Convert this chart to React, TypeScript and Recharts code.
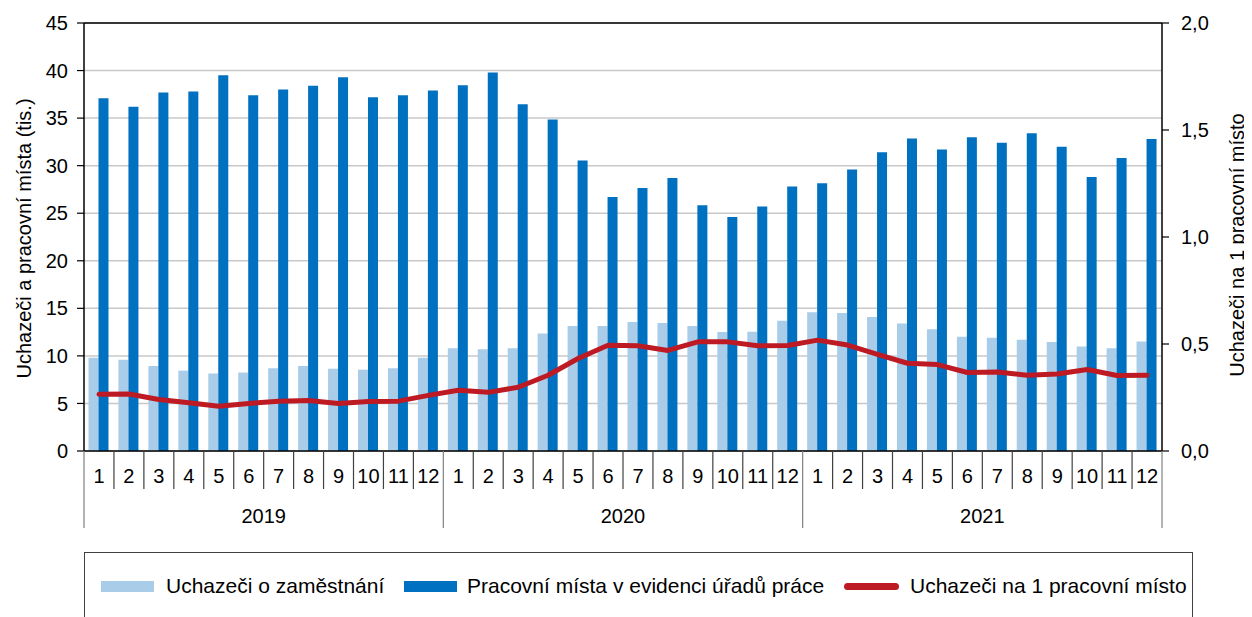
import React from 'react';
import {
  ComposedChart,
  Bar,
  Line,
  XAxis,
  YAxis,
  CartesianGrid,
  ReferenceLine,
  Legend,
} from 'recharts';

const years = ['2019', '2020', '2021'];
const monthLabels = ['1', '2', '3', '4', '5', '6', '7', '8', '9', '10', '11', '12'];

const seekers2019 = [9.8, 9.6, 8.95, 8.45, 8.15, 8.25, 8.7, 8.95, 8.65, 8.55, 8.7, 9.8];
const seekers2020 = [10.8, 10.7, 10.8, 12.35, 13.15, 13.15, 13.55, 13.45, 13.15, 12.5, 12.55, 13.7];
const seekers2021 = [14.6, 14.5, 14.1, 13.4, 12.8, 12.0, 11.9, 11.7, 11.45, 11.0, 10.8, 11.5];

const vacancies2019 = [37.1, 36.2, 37.7, 37.8, 39.5, 37.4, 38.0, 38.4, 39.3, 37.2, 37.4, 37.9];
const vacancies2020 = [38.45, 39.8, 36.45, 34.85, 30.55, 26.7, 27.65, 28.7, 25.85, 24.6, 25.7, 27.8];
const vacancies2021 = [28.15, 29.6, 31.4, 32.85, 31.7, 33.0, 32.4, 33.4, 32.0, 28.8, 30.8, 32.8];

const ratio2019 = [0.265, 0.266, 0.241, 0.225, 0.209, 0.222, 0.232, 0.236, 0.222, 0.231, 0.233, 0.26];
const ratio2020 = [0.284, 0.274, 0.298, 0.354, 0.432, 0.494, 0.492, 0.47, 0.51, 0.51, 0.492, 0.493];
const ratio2021 = [0.518, 0.495, 0.452, 0.41, 0.404, 0.367, 0.369, 0.354, 0.36, 0.381, 0.353, 0.354];

const leftTicks = [0, 5, 10, 15, 20, 25, 30, 35, 40, 45];
const rightTicks = [0, 0.5, 1, 1.5, 2];

const seriesNames = {
  seekers: 'Uchazeči o zaměstnání',
  vacancies: 'Pracovní místa v evidenci úřadů práce',
  ratio: 'Uchazeči na 1 pracovní místo',
};
const leftAxisTitle = 'Uchazeči a pracovní místa (tis.)';
const rightAxisTitle = 'Uchazeči na 1 pracovní místo';

const COLORS = {
  seekers: '#a9cde9',
  vacancies: '#0070c0',
  ratio: '#be1a24',
};

const seekersAll = [seekers2019, seekers2020, seekers2021];
const vacanciesAll = [vacancies2019, vacancies2020, vacancies2021];
const ratioAll = [ratio2019, ratio2020, ratio2021];

const data = years.flatMap((yr, yi) =>
  monthLabels.map((m, mi) => ({
    key: `${yr}-${m}`,
    month: m,
    year: yr,
    seekers: seekersAll[yi][mi],
    vacancies: vacanciesAll[yi][mi],
    ratio: ratioAll[yi][mi],
  }))
);

const FONT = '"Liberation Sans", Arial, sans-serif';
const MONTH_ROW = 38;
const YEAR_ROW = 77;
const W = 1244;
const H = 620;
const PLOT_TOP = 15;
const PLOT_BOTTOM = 443;
const LEGEND_TOP = 544;

const MonthTick = (props: any) => {
  const { x, y, index, width, visibleTicksCount } = props;
  const count = visibleTicksCount || data.length;
  const band = width && count ? width / count : 29.94;
  const d = data[index];
  const left = x - band / 2;
  const isYearStart = index % 12 === 0;
  const isLast = index === data.length - 1;
  return (
    <g>
      {isYearStart ? (
        <line x1={left} x2={left} y1={y} y2={y + YEAR_ROW} stroke="#808080" strokeWidth={1.2} />
      ) : (
        <line x1={left} x2={left} y1={y} y2={y + MONTH_ROW} stroke="#404040" strokeWidth={1.2} />
      )}
      {isLast && (
        <line x1={x + band / 2} x2={x + band / 2} y1={y} y2={y + YEAR_ROW} stroke="#808080" strokeWidth={1.2} />
      )}
      <text x={x} y={y + 32} textAnchor="middle" fontSize={20} fill="#000" fontFamily={FONT}>
        {d ? d.month : ''}
      </text>
      {isYearStart && d && (
        <text x={left + band * 6} y={y + 72} textAnchor="middle" fontSize={20} fill="#000" fontFamily={FONT}>
          {d.year}
        </text>
      )}
    </g>
  );
};

const AxisTitle = ({ cx, cy, text }: { cx: number; cy: number; text: string }) => (
  <text
    x={cx}
    y={cy}
    transform={`rotate(-90 ${cx} ${cy})`}
    textAnchor="middle"
    dominantBaseline="central"
    fontSize={20}
    fill="#000"
    fontFamily={FONT}
  >
    {text}
  </text>
);

const LeftTitle = () => (
  <AxisTitle cx={16} cy={(PLOT_TOP + PLOT_BOTTOM) / 2 + 1.5} text={leftAxisTitle} />
);

const RightTitle = () => (
  <AxisTitle cx={W - 15} cy={(PLOT_TOP + PLOT_BOTTOM) / 2 + 8} text={rightAxisTitle} />
);

const legendItems = [
  { key: 'seekers', type: 'rect', swatchLeft: 16, textLeft: 81 },
  { key: 'vacancies', type: 'rect', swatchLeft: 319, textLeft: 382 },
  { key: 'ratio', type: 'line', swatchLeft: 759, textLeft: 825 },
];

const LegendContent = () => (
  <div
    style={{
      position: 'relative',
      width: 1109,
      height: 90,
      border: '1.5px solid #404040',
      boxSizing: 'border-box',
      fontFamily: FONT,
      fontSize: 21,
      color: '#000',
      background: '#fff',
    }}
  >
    {legendItems.map((it) => (
      <React.Fragment key={it.key}>
        {it.type === 'rect' ? (
          <div
            style={{
              position: 'absolute',
              left: it.swatchLeft,
              top: 28,
              width: 53,
              height: 11,
              background: (COLORS as any)[it.key],
            }}
          />
        ) : (
          <div
            style={{
              position: 'absolute',
              left: it.swatchLeft,
              top: 30,
              width: 55,
              height: 7,
              borderRadius: 4,
              background: (COLORS as any)[it.key],
            }}
          />
        )}
        <div
          style={{
            position: 'absolute',
            left: it.textLeft,
            top: 20,
            lineHeight: '26px',
            whiteSpace: 'nowrap',
          }}
        >
          {(seriesNames as any)[it.key]}
        </div>
      </React.Fragment>
    ))}
  </div>
);

export default function App() {
  return (
    <div style={{ width: W, height: H, fontFamily: FONT }}>
      <style>{'html, body { overflow: hidden; }'}</style>
      <ComposedChart
        width={W}
        height={H}
        data={data}
        margin={{ top: PLOT_TOP, right: 0, left: 0, bottom: H - PLOT_BOTTOM - 77 }}
        barCategoryGap="15%"
        barGap={0}
      >
        <CartesianGrid
          yAxisId="l"
          vertical={false}
          horizontal
          stroke="#c8c8c8"
          strokeWidth={1.5}
        />
        <XAxis
          dataKey="key"
          xAxisId="m"
          interval={0}
          height={MONTH_ROW + 39}
          tickSize={0}
          tickMargin={0}
          tickLine={false}
          axisLine={{ stroke: '#000', strokeWidth: 1.5 }}
          tick={<MonthTick />}
        />
        <YAxis
          yAxisId="l"
          orientation="left"
          width={76}
          domain={[0, 45]}
          ticks={leftTicks}
          interval={0}
          tickSize={7}
          tickMargin={9}
          axisLine={{ stroke: '#000', strokeWidth: 1.5 }}
          tickLine={{ stroke: '#000', strokeWidth: 1.2 }}
          tick={{ fontSize: 20, fill: '#000', fontFamily: FONT }}
          label={<LeftTitle />}
        />
        <YAxis
          yAxisId="r"
          orientation="right"
          width={90}
          domain={[0, 2]}
          ticks={rightTicks}
          interval={0}
          tickSize={7}
          tickMargin={12}
          tickFormatter={(v: number) => v.toFixed(1).replace('.', ',')}
          axisLine={{ stroke: '#000', strokeWidth: 1.5 }}
          tickLine={{ stroke: '#000', strokeWidth: 1.2 }}
          tick={{ fontSize: 20, fill: '#000', fontFamily: FONT }}
          label={<RightTitle />}
        />
        <ReferenceLine yAxisId="l" xAxisId="m" y={45} stroke="#000" strokeWidth={1.5} />
        <Bar
          xAxisId="m"
          yAxisId="l"
          dataKey="seekers"
          name={seriesNames.seekers}
          fill={COLORS.seekers}
          isAnimationActive={false}
        />
        <Bar
          xAxisId="m"
          yAxisId="l"
          dataKey="vacancies"
          name={seriesNames.vacancies}
          fill={COLORS.vacancies}
          isAnimationActive={false}
        />
        <Line
          xAxisId="m"
          yAxisId="r"
          type="linear"
          dataKey="ratio"
          name={seriesNames.ratio}
          stroke={COLORS.ratio}
          strokeWidth={5}
          strokeLinejoin="round"
          strokeLinecap="round"
          dot={false}
          activeDot={false}
          isAnimationActive={false}
        />
        <Legend
          verticalAlign="middle"
          align="center"
          layout="horizontal"
          content={<LegendContent />}
          wrapperStyle={{ position: 'absolute', left: 76, top: LEGEND_TOP, width: 1109, height: 90 }}
        />
      </ComposedChart>
    </div>
  );
}
